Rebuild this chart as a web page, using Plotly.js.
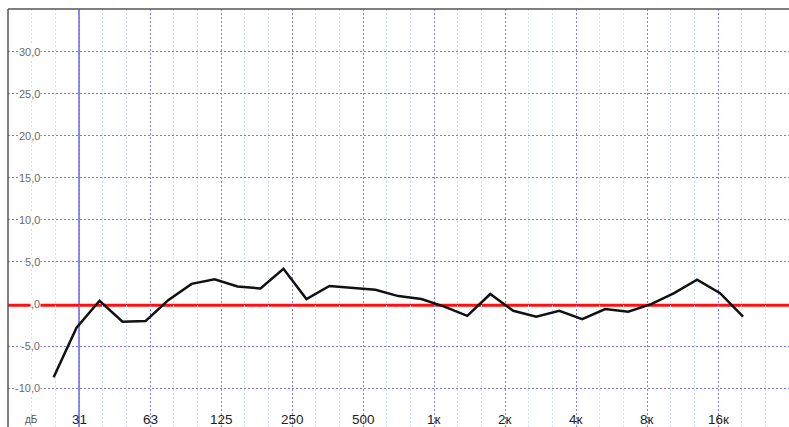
<!DOCTYPE html>
<html>
<head>
<meta charset="utf-8">
<script src="https://cdn.plot.ly/plotly-3.0.1.min.js"></script>
<style>
html,body{margin:0;padding:0;background:#fff;}
#chart{width:789px;height:427px;}
</style>
</head>
<body>
<div id="chart"></div>
<script>
// Measurement frequencies (Hz) and response (dB)
const freqs = [24.4, 30.5, 38.2, 47.8, 59.9, 74.9, 93.8, 117.4, 146.9, 183.8, 230.0, 287.9, 360.3, 450.9, 564.3, 706.2, 883.8, 1106, 1384, 1732, 2168, 2713, 3396, 4250, 5319, 6656, 8330, 10425, 13047, 16328, 20435];
const levels = [-8.7, -2.8, 0.4, -2.1, -2.0, 0.5, 2.4, 2.95, 2.1, 1.85, 4.2, 0.6, 2.15, 1.9, 1.7, 0.95, 0.6, -0.3, -1.4, 1.2, -0.8, -1.5, -0.8, -1.8, -0.6, -0.9, 0.0, 1.3, 2.9, 1.3, -1.5];

// Octave grid / labels
const octaveFreqs = [31.25, 62.5, 125, 250, 500, 1000, 2000, 4000, 8000, 16000];
const octaveLabels = ["31", "63", "125", "250", "500", "1к", "2к", "4к", "8к", "16к"];
const thirdOctaveFreqs = [15.625, 19.69, 24.8, 39.37, 49.6, 78.75, 99.2, 157.5, 198.4, 315, 396.9, 630, 793.7, 1260, 1587, 2520, 3175, 5040, 6350, 10079, 12699, 20159, 25398, 32000];

// dB ticks
const dbTicks = [30, 25, 20, 15, 10, 5, 0, -5, -10];
const dbLabels = ["30,0", "25,0", "20,0", "15,0", "10,0", "5,0", ",0", "-5,0", "-10,0"];
const unitLabel = "дБ";

const annotations = [];
dbTicks.forEach((v, i) => {
  annotations.push({
    xref: 'paper', yref: 'y', x: 0.0425, y: v, xanchor: 'right', yanchor: 'middle',
    text: dbLabels[i], showarrow: false, bgcolor: '#ffffff', borderpad: 0,
    font: {family: 'Liberation Sans, Arial, sans-serif', size: 11, color: '#6a6a6a'}
  });
});
octaveFreqs.forEach((f, i) => {
  annotations.push({
    xref: 'x', yref: 'paper', x: Math.log10(f), y: 0, xanchor: 'center', yanchor: 'middle', yshift: 8,
    text: octaveLabels[i], showarrow: false,
    font: {family: 'Liberation Sans, Arial, sans-serif', size: 13.5, color: '#222222'}
  });
});
annotations.push({
  xref: 'paper', yref: 'paper', x: 0.03, y: 0, xanchor: 'center', yanchor: 'bottom', yshift: 0,
  text: unitLabel, showarrow: false,
  font: {family: 'Liberation Sans, Arial, sans-serif', size: 10, color: '#555555'}
});

const layout = {
  width: 789, height: 427,
  margin: {l: 8, r: 0, t: 9, b: 0, pad: 0},
  paper_bgcolor: '#ffffff', plot_bgcolor: '#ffffff',
  showlegend: false,
  xaxis: {
    type: 'log',
    range: [Math.log10(15.625), Math.log10(32000)],
    tickvals: octaveFreqs, ticks: '', showticklabels: false,
    showgrid: true, gridcolor: '#7c7cff', griddash: '2px,2px', gridwidth: 1,
    zeroline: false, showline: false,
    minor: {tickvals: thirdOctaveFreqs, showgrid: true, gridcolor: '#cfdcff', griddash: '2px,2px', gridwidth: 1, ticks: ''}
  },
  yaxis: {
    range: [-14.6, 35.05],
    tickvals: dbTicks.filter(v => v !== 0), ticks: '', showticklabels: false,
    showgrid: true, gridcolor: '#7878ff', griddash: '2px,2px', gridwidth: 1,
    zeroline: false, showline: false
  },
  shapes: [
    {type: 'line', xref: 'x', yref: 'paper', x0: 31.25, x1: 31.25, y0: 0, y1: 1,
     line: {color: '#8a8af5', width: 2}, layer: 'between'},
    {type: 'line', xref: 'paper', yref: 'y', x0: 0, x1: 1, y0: -0.15, y1: -0.15,
     line: {color: '#ff0f0f', width: 3}, layer: 'between'},
    {type: 'line', xref: 'paper', yref: 'paper', x0: 0, x1: 1, y0: 1, y1: 1,
     line: {color: '#555555', width: 1.5}},
    {type: 'line', xref: 'paper', yref: 'paper', x0: 0, x1: 0, y0: 0, y1: 1,
     line: {color: '#555555', width: 1.5}}
  ],
  annotations: annotations
};

const trace = {
  type: 'scatter', mode: 'lines', x: freqs, y: levels,
  line: {color: '#111111', width: 2.5},
  hoverinfo: 'skip'
};

Plotly.newPlot('chart', [trace], layout, {staticPlot: true, displayModeBar: false});
</script>
</body>
</html>
